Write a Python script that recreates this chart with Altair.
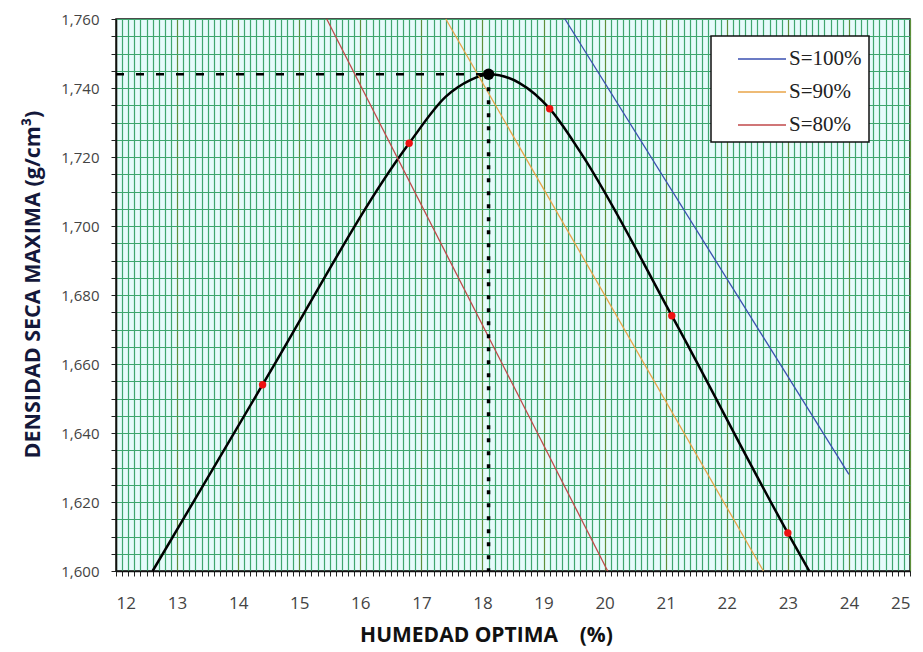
import altair as alt
import pandas as pd

# Compaction curve (humedad %, densidad g/cm3 *1000)
curve_x = [12.6, 14.4, 16.8, 17.4, 17.8, 18.1, 18.6, 19.1, 19.6, 21.1, 23.0, 23.35]
curve_y = [1600, 1654, 1724, 1737.5, 1742.3, 1744, 1741.5, 1734, 1721.5, 1674, 1611, 1600]

# Test points
pts_x = [14.4, 16.8, 19.1, 21.1, 23.0]
pts_y = [1654, 1724, 1734, 1674, 1611]

# Optimum
opt_x = 18.1
opt_y = 1744

# Saturation lines
sat_names = ["S=100%", "S=90%", "S=80%"]
sat_x1 = [19.35, 17.4, 15.45]
sat_y1 = [1760, 1760, 1760]
sat_x2 = [24.0, 22.6, 20.05]
sat_y2 = [1628, 1600, 1600]
sat_colors = ["#3a4fb0", "#e8a448", "#c0494a"]

x_vals = [round(12 + i * 0.1, 1) for i in range(131)]
y_vals = [1600 + 5 * i for i in range(33)]

curve_df = pd.DataFrame({"x": curve_x, "y": curve_y})
pts_df = pd.DataFrame({"x": pts_x, "y": pts_y})
opt_df = pd.DataFrame({"x": [opt_x], "y": [opt_y]})
sat_rows = []
for n, a, b, c, d in zip(sat_names, sat_x1, sat_y1, sat_x2, sat_y2):
    sat_rows.append({"s": n, "x": a, "y": b})
    sat_rows.append({"s": n, "x": c, "y": d})
sat_df = pd.DataFrame(sat_rows)
hdash_df = pd.DataFrame({"x": [12.0, opt_x], "y": [opt_y, opt_y]})
vdash_df = pd.DataFrame({"x": [opt_x, opt_x], "y": [opt_y, 1600]})

NB = "\u00a0"
is_int = "abs(datum.value - round(datum.value)) < 0.01"
xscale = alt.Scale(domain=[12, 25], nice=False, zero=False)
yscale = alt.Scale(domain=[1600, 1760], nice=False, zero=False)

x_axis = alt.Axis(
    values=x_vals,
    labelExpr=f"{is_int} ? format(datum.value, 'd') : ''",
    labelOverlap=False,
    grid=True,
    gridColor={"condition": {"test": is_int, "value": "#5e8f3a"}, "value": "#3fa66e"},
    gridWidth=1.2,
    gridOpacity=1,
    tickColor="#222",
    tickSize=5,
    domainColor="#111",
    domainWidth=1.5,
    labelFont="Open Sans",
    labelFontSize=17,
    labelColor="#444",
    labelPadding=19,
    title="HUMEDAD OPTIMA" + NB * 4 + "(%)",
    titleFont="Open Sans",
    titleFontSize=21,
    titleFontWeight="bold",
    titleColor="#111",
    titlePadding=13,
    titleX=370,
    titleAlign="center",
)
y_axis = alt.Axis(
    values=y_vals,
    labelExpr="datum.value % 20 === 0 ? format(datum.value, ',') : ''",
    labelOverlap=False,
    grid=True,
    gridColor="#3fa66e",
    gridWidth=1.2,
    gridOpacity=1,
    tickColor="#222",
    tickSize=5,
    domainColor="#111",
    domainWidth=1.5,
    labelFont="Open Sans",
    labelFontSize=15,
    labelColor="#444",
    labelPadding=12,
    title="DENSIDAD SECA MAXIMA" + NB + "(g/cm³)",
    titleFont="Open Sans",
    titleFontSize=21.5,
    titleFontWeight="bold",
    titleColor="#14183a",
    titlePadding=16,
    titleY=265,
    titleAlign="center",
)

X = alt.X("x:Q", scale=xscale, axis=x_axis)
Y = alt.Y("y:Q", scale=yscale, axis=y_axis)

sat = alt.Chart(sat_df).mark_line(strokeWidth=1.3).encode(
    x=X,
    y=Y,
    color=alt.Color(
        "s:N",
        scale=alt.Scale(domain=sat_names, range=sat_colors),
        sort=sat_names,
        legend=alt.Legend(
            title=None,
            orient="none",
            legendX=595,
            legendY=17,
            fillColor="white",
            strokeColor="#111",
            padding=7,
            symbolType="M-1.6,0H1.6",
            symbolSize=900,
            symbolStrokeWidth=1.6,
            symbolOffset=28,
            labelFont="Liberation Serif",
            labelFontSize=21,
            labelColor="#222",
            labelExpr="datum.label + '" + NB * 4 + "'",
            rowPadding=7,
            labelOffset=11,
        ),
    ),
    detail="s:N",
)

curve = alt.Chart(curve_df).mark_line(color="black", strokeWidth=2.5, interpolate="monotone").encode(
    x=X, y=Y
)
hdash = alt.Chart(hdash_df).mark_line(color="black", strokeWidth=2.5, strokeDash=[8, 12]).encode(
    x=X, y=Y
)
vdash = alt.Chart(vdash_df).mark_line(color="black", strokeWidth=3.5, strokeDash=[4, 9]).encode(
    x=X, y=Y
)
points = alt.Chart(pts_df).mark_circle(color="#ee1111", size=55, opacity=1).encode(
    x=X, y=Y
)
opt = alt.Chart(opt_df).mark_circle(color="black", size=130, opacity=1).encode(
    x=X, y=Y
)

chart = alt.layer(curve, sat, hdash, vdash, points, opt).properties(
    width=794,
    height=552,
    autosize=alt.AutoSizeParams(type="none"),
    padding={"left": 108, "top": 11, "right": 5, "bottom": 82},
).configure_view(
    fill="#e6fbfb",
    stroke="#111",
    strokeWidth=1.5,
).configure_legend(strokeWidth=1.5)

chart.save("out.html", embed_options={"renderer": "svg", "actions": False})
